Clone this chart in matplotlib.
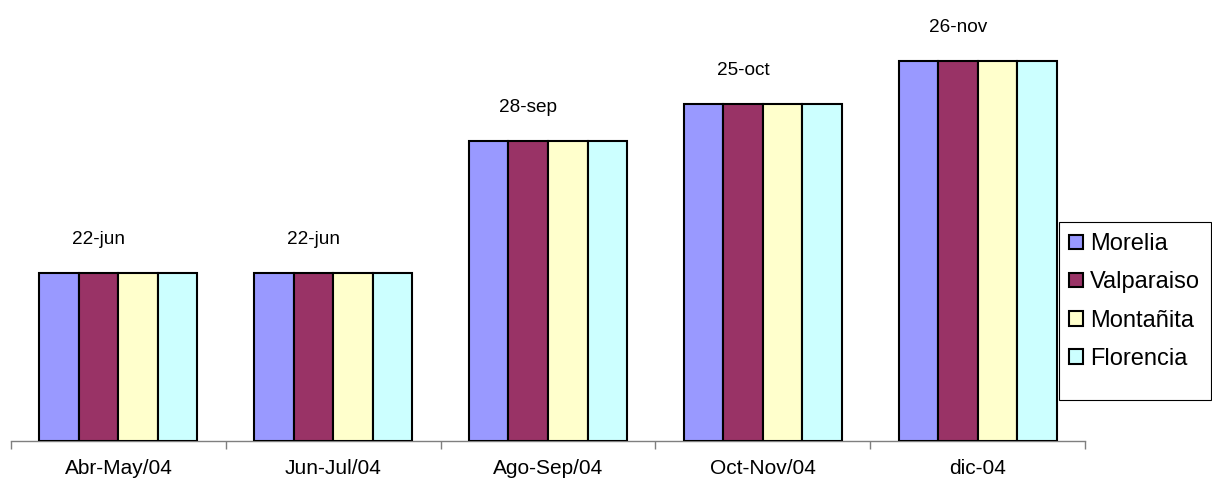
import datetime as dt
import matplotlib
matplotlib.use("Agg")
import matplotlib.pyplot as plt
import matplotlib.dates as mdates
from matplotlib.patches import Rectangle
import numpy as np

plt.rcParams['font.family'] = ['Liberation Sans', 'DejaVu Sans']

# Periods and the date reached in each (all stations share the same date)
periods = ["Abr-May/04", "Jun-Jul/04", "Ago-Sep/04", "Oct-Nov/04", "dic-04"]
dates = ["2004-06-22", "2004-06-22", "2004-09-28", "2004-10-25", "2004-11-26"]
date_labels = ["22-jun", "22-jun", "28-sep", "25-oct", "26-nov"]
stations = ["Morelia", "Valparaiso", "Montañita", "Florencia"]
colors = ["#9999FF", "#993366", "#FFFFCC", "#CCFFFF"]

values = mdates.date2num([dt.datetime.strptime(d, "%Y-%m-%d") for d in dates])
y_min = mdates.date2num(dt.datetime(2004, 2, 19))
y_max = mdates.date2num(dt.datetime(2005, 1, 2, 14))

W, H = 1212, 484
fig = plt.figure(figsize=(W / 100, H / 100), dpi=100)
ax = fig.add_axes([11 / W, 1 - 440.5 / H, (1085 - 11) / W, (440.5 - 10) / H])

x = np.arange(len(periods))
bw = 0.184
offsets = (np.arange(len(stations)) - 1.5) * bw
for i, (st, c) in enumerate(zip(stations, colors)):
    ax.bar(x + offsets[i], values - y_min, bottom=y_min, width=bw, color=c,
           edgecolor="black", linewidth=1.5, label=st, zorder=3)

# date labels above the second bar of each group
for xi, v, lab in zip(x, values, date_labels):
    ax.annotate(lab, (xi + offsets[1], v), xytext=(0, 24), textcoords="offset points",
                ha="center", va="center", fontsize=13.7)

ax.set_xlim(-0.5, len(periods) - 0.5)
ax.set_ylim(y_min, y_max)

for s in ["top", "right", "left"]:
    ax.spines[s].set_visible(False)
ax.spines["bottom"].set_color("#7f7f7f")
ax.spines["bottom"].set_linewidth(1.0)
ax.set_yticks([])

ax.set_xticks(x)
ax.set_xticklabels(periods, fontsize=15)
ax.tick_params(axis="x", which="major", length=0, pad=13)
ax.set_xticks(np.arange(-0.5, len(periods)), minor=True)
ax.tick_params(axis="x", which="minor", length=6, color="#7f7f7f", width=1.0, direction="out")

# legend entries, with a separate box drawn around them
leg = fig.legend(loc="center left", bbox_to_anchor=(1069 / W, 1 - 301.5 / H),
                 fontsize=17, frameon=False, borderaxespad=0, borderpad=0,
                 handlelength=0.58, handleheight=0.58, handletextpad=0.3,
                 labelspacing=0.68)
fig.add_artist(Rectangle((1059 / W, 1 - 400 / H), (1211 - 1059) / W, (400 - 222) / H,
                         transform=fig.transFigure, fill=False, edgecolor="black",
                         linewidth=0.8))

fig.savefig("out.png", dpi=100)
